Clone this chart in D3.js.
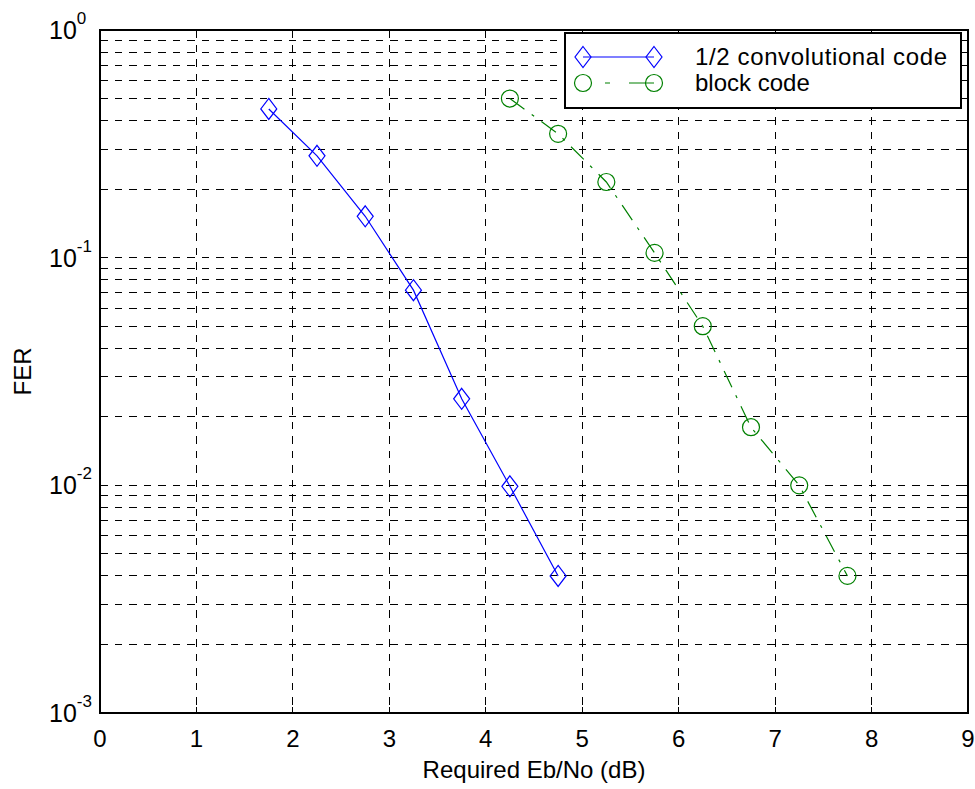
<!DOCTYPE html>
<html>
<head>
<meta charset="utf-8">
<script src="https://cdn.jsdelivr.net/npm/d3@7"></script>
<style>
  body { margin: 0; background: #fff; }
  text { font-family: "Liberation Sans", Arial, sans-serif; fill: #000; }
</style>
</head>
<body>
<div id="chart"></div>
<script>
// --- data ---
const convX = [1.75, 2.25, 2.75, 3.25, 3.75, 4.25, 4.75];
const convFER = [0.45, 0.28, 0.152, 0.072, 0.024, 0.0099, 0.004];
const blockX = [4.25, 4.75, 5.25, 5.75, 6.25, 6.75, 7.25, 7.75];
const blockFER = [0.5, 0.35, 0.215, 0.105, 0.05, 0.018, 0.01, 0.004];
const xTicks = [0, 1, 2, 3, 4, 5, 6, 7, 8, 9];
const yDecades = [1, 0.1, 0.01, 0.001];
const yExponents = ["0", "-1", "-2", "-3"];
const seriesNames = ["1/2 convolutional code", "block code"];

const W = 975, H = 789;
const margin = { top: 30, right: 7, bottom: 76, left: 100 };
const iw = W - margin.left - margin.right;
const ih = H - margin.top - margin.bottom;

const svg = d3.select("#chart").append("svg")
  .attr("width", W).attr("height", H);

const g = svg.append("g").attr("transform", `translate(${margin.left},${margin.top})`);

const x = d3.scaleLinear().domain([0, 9]).range([0, iw]);
const y = d3.scaleLog().domain([0.001, 1]).range([ih, 0]);

// minor + major y ticks (1..9 per decade)
const yAll = [];
for (let e = -3; e < 0; e++) {
  for (let m = 1; m <= 9; m++) yAll.push(m * Math.pow(10, e));
}
yAll.push(1);

// === grid ===
const dash = "7.5,7";
g.append("g").selectAll("line")
  .data(xTicks.slice(1, -1))
  .join("line")
  .attr("x1", d => x(d)).attr("x2", d => x(d))
  .attr("y1", 0).attr("y2", ih)
  .attr("stroke", "#000").attr("stroke-dasharray", dash)
  .attr("shape-rendering", "crispEdges");

g.append("g").selectAll("line")
  .data(yAll.filter(d => d > 0.001 && d < 1))
  .join("line")
  .attr("x1", 0).attr("x2", iw)
  .attr("y1", d => y(d)).attr("y2", d => y(d))
  .attr("stroke", "#000").attr("stroke-dasharray", dash)
  .attr("shape-rendering", "crispEdges");

// === ticks (inward, all four sides) ===
const tk = 6;
const ticks = g.append("g").attr("stroke", "#000").attr("shape-rendering", "crispEdges");
xTicks.forEach(v => {
  ticks.append("line").attr("x1", x(v)).attr("x2", x(v)).attr("y1", ih).attr("y2", ih - tk);
  ticks.append("line").attr("x1", x(v)).attr("x2", x(v)).attr("y1", 0).attr("y2", tk);
});
yAll.forEach(v => {
  ticks.append("line").attr("x1", 0).attr("x2", tk).attr("y1", y(v)).attr("y2", y(v));
  ticks.append("line").attr("x1", iw).attr("x2", iw - tk).attr("y1", y(v)).attr("y2", y(v));
});

// frame
g.append("rect").attr("width", iw).attr("height", ih)
  .attr("fill", "none").attr("stroke", "#000").attr("stroke-width", 1.3)
  .attr("shape-rendering", "crispEdges");

// === tick labels ===
g.append("g").selectAll("text")
  .data(xTicks)
  .join("text")
  .attr("x", d => x(d)).attr("y", ih + 34)
  .attr("text-anchor", "middle")
  .style("font-size", "24px")
  .text(d => d);

const yl = g.append("g").selectAll("text")
  .data(yDecades)
  .join("text")
  .attr("x", 49 - margin.left).attr("y", d => y(d) + 9)
  .style("font-size", "25px");
yl.append("tspan").text("10");
yl.append("tspan").attr("dy", -15).style("font-size", "17px").text((d, i) => yExponents[i]);

// axis titles
svg.append("text")
  .attr("x", margin.left + iw / 2).attr("y", 778)
  .attr("text-anchor", "middle")
  .style("font-size", "24px")
  .text("Required Eb/No (dB)");

svg.append("text")
  .attr("transform", `translate(31,${margin.top + ih / 2}) rotate(-90)`)
  .attr("text-anchor", "middle")
  .style("font-size", "24px")
  .text("FER");

// === series ===
const blue = "#0000ff", green = "#008000";
const diamond = (s, cx, cy) => {
  s.append("path")
    .attr("d", `M${cx},${cy - 10.5}L${cx + 8},${cy}L${cx},${cy + 10.5}L${cx - 8},${cy}Z`)
    .attr("fill", "none").attr("stroke", blue).attr("stroke-width", 1.2);
};
const circle = (s, cx, cy) => {
  s.append("circle").attr("cx", cx).attr("cy", cy).attr("r", 8.5)
    .attr("fill", "none").attr("stroke", green).attr("stroke-width", 1.2);
};

const line = d3.line().x(d => x(d[0])).y(d => y(d[1]));
const convPts = convX.map((v, i) => [v, convFER[i]]);
const blockPts = blockX.map((v, i) => [v, blockFER[i]]);

g.append("path").datum(convPts).attr("d", line)
  .attr("fill", "none").attr("stroke", blue).attr("stroke-width", 1.2);
g.append("path").datum(blockPts).attr("d", line)
  .attr("fill", "none").attr("stroke", green).attr("stroke-width", 1.2)
  .attr("stroke-dasharray", "18,9,3,9");

const mk = g.append("g");
convPts.forEach(p => diamond(mk, x(p[0]), y(p[1])));
blockPts.forEach(p => circle(mk, x(p[0]), y(p[1])));

// === legend ===
const lg = svg.append("g");
lg.append("rect").attr("x", 565).attr("y", 33).attr("width", 396).attr("height", 75)
  .attr("fill", "#fff").attr("stroke", "#000").attr("stroke-width", 1.5)
  .attr("shape-rendering", "crispEdges");
const rows = [57, 83];
lg.append("line").attr("x1", 583).attr("x2", 654).attr("y1", rows[0]).attr("y2", rows[0])
  .attr("stroke", blue).attr("stroke-width", 1.2);
diamond(lg, 583, rows[0]);
diamond(lg, 654, rows[0]);
lg.append("line").attr("x1", 583).attr("x2", 654).attr("y1", rows[1]).attr("y2", rows[1])
  .attr("stroke", green).attr("stroke-width", 1.2).attr("stroke-dasharray", "0,22,5,19,40");
circle(lg, 583, rows[1]);
circle(lg, 654, rows[1]);
lg.selectAll("text.lab").data(seriesNames).join("text")
  .attr("class", "lab")
  .attr("x", 695).attr("y", (d, i) => rows[i] + 8)
  .style("font-size", "24px")
  .attr("textLength", (d, i) => i === 0 ? 252 : null)
  .text(d => d);
</script>
</body>
</html>
